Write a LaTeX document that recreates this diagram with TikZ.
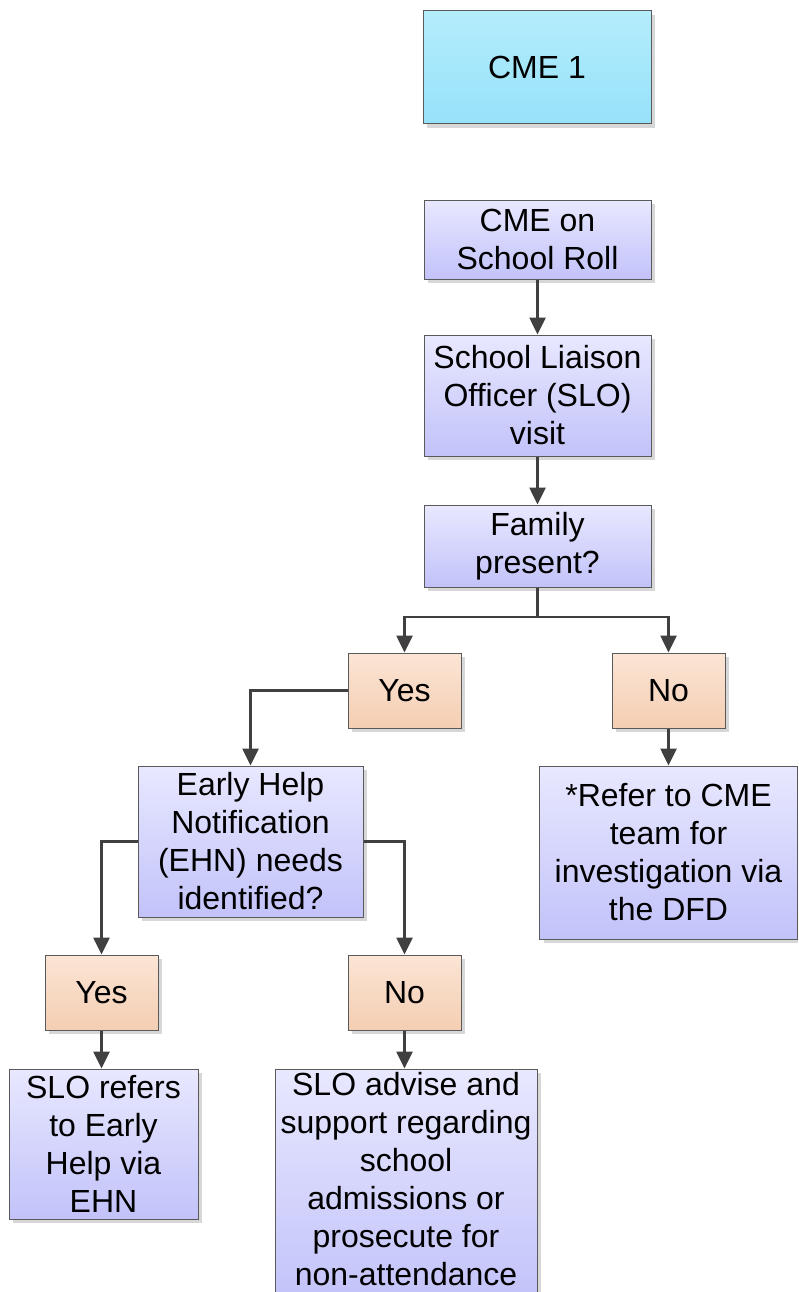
\documentclass[tikz,border=0pt]{standalone}
\usepackage{fontspec}
\setmainfont{Liberation Sans}
\usetikzlibrary{shadows,arrows.meta}
\definecolor{pTop}{RGB}{232,232,255}
\definecolor{pBot}{RGB}{194,194,250}
\definecolor{cTop}{RGB}{180,237,252}
\definecolor{cBot}{RGB}{150,225,250}
\definecolor{oTop}{RGB}{251,229,213}
\definecolor{oBot}{RGB}{244,206,178}
\definecolor{bordergray}{RGB}{90,90,90}
\definecolor{shadowgray}{RGB}{215,215,215}
\definecolor{conngray}{RGB}{64,64,64}
\begin{document}
\begin{tikzpicture}[x=1pt,y=-1pt,
  box/.style={draw=bordergray, line width=1pt, inner sep=0pt, align=center,
    font=\fontsize{32}{38}\selectfont,
    drop shadow={shadow xshift=4pt, shadow yshift=-4pt, fill=shadowgray, opacity=1}},
  purple/.style={box, top color=pTop, bottom color=pBot},
  cyanbox/.style={box, top color=cTop, bottom color=cBot},
  orangebox/.style={box, top color=oTop, bottom color=oBot, minimum width=113pt, minimum height=75pt},
  conn/.style={draw=conngray, line width=2.6pt, -{Triangle[width=16pt,length=17pt]}}]
\useasboundingbox (0,0) rectangle (798,1292);
\clip (0,0) rectangle (798,1292);

\node[cyanbox, minimum width=228pt, minimum height=113pt] (cme) at (537,67.5) {CME 1};
\node[purple, minimum width=227pt, minimum height=79pt] (roll) at (537.5,239.5) {CME on\\School Roll};
\node[purple, minimum width=227pt, minimum height=121pt] (visit) at (537.5,395.5) {School Liaison\\Officer (SLO)\\visit};
\node[purple, minimum width=227pt, minimum height=82pt] (family) at (537.5,546) {Family\\present?};
\node[orangebox] (yes1) at (404.5,690.5) {Yes};
\node[orangebox] (no1) at (668.5,690.5) {No};
\node[purple, minimum width=225pt, minimum height=151pt] (ehn) at (250.5,841.5) {Early Help\\Notification\\(EHN) needs\\identified?};
\node[purple, minimum width=258pt, minimum height=173pt] (refer) at (668.5,852.5) {*Refer to CME\\team for\\investigation via\\the DFD};
\node[orangebox] (yes2) at (101.5,992.5) {Yes};
\node[orangebox] (no2) at (404.5,992.5) {No};
\node[purple, minimum width=189pt, minimum height=150pt] (refers) at (103.5,1144) {SLO refers\\to Early\\Help via\\EHN};
\node[purple, minimum width=262pt, minimum height=234pt] (advise) at (406,1186) {SLO advise and\\support regarding\\school\\admissions or\\prosecute for\\non-attendance\\[-23pt]\mbox{}};

\coordinate (split) at (537.5,617);
\draw[conn] (roll.south) -- (roll.south |- visit.north);
\draw[conn] (visit.south) -- (visit.south |- family.north);
\draw[conn] (family.south) -- (split) -| (yes1.north);
\draw[conn] (split) -| (no1.north);
\draw[conn] (yes1.west) -| (ehn.north);
\draw[conn] (no1.south) -- (no1.south |- refer.north);
\draw[conn] (ehn.west) -| (yes2.north);
\draw[conn] (ehn.east) -| (no2.north);
\draw[conn] (yes2.south) -- (yes2.south |- refers.north);
\draw[conn] (no2.south) -- (no2.south |- advise.north);
\end{tikzpicture}
\end{document}
